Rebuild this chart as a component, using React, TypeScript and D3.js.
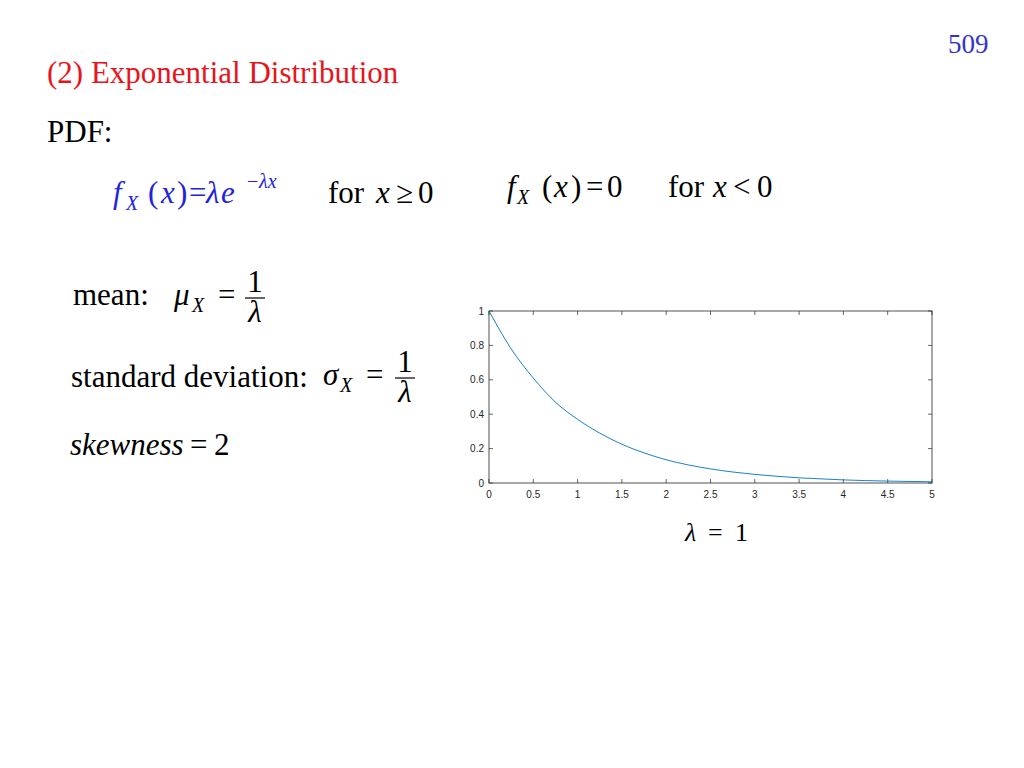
import React from "react";
import * as d3 from "d3";

// Curve (lambda = 1)
const xValues = [0, 0.25, 0.5, 0.75, 1, 1.25, 1.5, 1.75, 2, 2.25, 2.5, 2.75, 3, 3.25, 3.5, 3.75, 4, 4.25, 4.5, 4.75, 5];
const yValues = [1, 0.78, 0.61, 0.47, 0.37, 0.29, 0.225, 0.175, 0.135, 0.105, 0.082, 0.064, 0.05, 0.039, 0.03, 0.024, 0.018, 0.014, 0.011, 0.009, 0.007];
const xTicks = [0, 0.5, 1, 1.5, 2, 2.5, 3, 3.5, 4, 4.5, 5];
const yTicks = [0, 0.2, 0.4, 0.6, 0.8, 1];

const SERIF = "'Liberation Serif', 'Times New Roman', serif";
const SANS = "'Liberation Sans', Arial, Helvetica, sans-serif";

export default function App() {
  const W = 1024, H = 768;
  const left = 489, right = 932, top = 311, bottom = 483;
  const x = d3.scaleLinear().domain([0, 5]).range([left, right]);
  const y = d3.scaleLinear().domain([0, 1]).range([bottom, top]);
  const pts: [number, number][] = xValues.map((v, i) => [v, yValues[i]]);
  const line = d3.line<[number, number]>().x(d => x(d[0])).y(d => y(d[1])).curve(d3.curveMonotoneX);
  const axisColor = "#262626";
  const tl = 4;
  const fs = 31;
  const sub = 20;

  return (
    <svg width={W} height={H} style={{ position: "absolute", left: 0, top: 0, background: "#fff" }}>
      <rect x={0} y={0} width={W} height={H} fill="#fff" />
      {/* page number */}
      <text x={948} y={53} fontFamily={SERIF} fontSize={27} fill="#3333cc">509</text>
      {/* title */}
      <text x={47} y={83} fontFamily={SERIF} fontSize={fs} fill="#e8141b">(2) Exponential Distribution</text>
      <text x={47} y={142} fontFamily={SERIF} fontSize={fs} fill="#000">PDF:</text>

      {/* f_X(x) = λ e^{-λx} */}
      <g fontFamily={SERIF} fill="#2222dd" fontStyle="italic">
        <text x={113} y={203} fontSize={fs}>f</text>
        <text x={126} y={210} fontSize={sub}>X</text>
        <text x={148} y={203} fontSize={fs} fontStyle="normal">(</text>
        <text x={161} y={203} fontSize={fs}>x</text>
        <text x={177} y={203} fontSize={fs} fontStyle="normal">)</text>
        <text x={189} y={203} fontSize={fs} fontStyle="normal">=</text>
        <text x={206} y={203} fontSize={fs}>λ</text>
        <text x={221} y={203} fontSize={fs}>e</text>
        <text x={247} y={188} fontSize={sub} fontStyle="normal">−</text>
        <text x={259} y={188} fontSize={sub}>λx</text>
      </g>
      <g fontFamily={SERIF} fill="#000" fontSize={fs}>
        <text x={328} y={203}>for</text>
        <text x={376} y={203} fontStyle="italic">x</text>
        <text x={396} y={203}>≥</text>
        <text x={418} y={203}>0</text>
      </g>

      {/* f_X(x) = 0 for x < 0 */}
      <g fontFamily={SERIF} fill="#000" fontSize={fs}>
        <text x={507} y={197} fontStyle="italic">f</text>
        <text x={517} y={204} fontSize={sub} fontStyle="italic">X</text>
        <text x={542} y={197}>(</text>
        <text x={554} y={197} fontStyle="italic">x</text>
        <text x={571} y={197}>)</text>
        <text x={586} y={197}>=</text>
        <text x={607} y={197}>0</text>
        <text x={668} y={197}>for</text>
        <text x={713} y={197} fontStyle="italic">x</text>
        <text x={733} y={197}>&lt;</text>
        <text x={757} y={197}>0</text>
      </g>

      {/* mean */}
      <g fontFamily={SERIF} fill="#000" fontSize={fs}>
        <text x={73} y={305}>mean:</text>
        <text x={174} y={305} fontStyle="italic">μ</text>
        <text x={192} y={312} fontSize={sub} fontStyle="italic">X</text>
        <text x={218} y={305}>=</text>
        <text x={255} y={292} textAnchor="middle">1</text>
        <line x1={245} x2={265} y1={298} y2={298} stroke="#000" strokeWidth={1.2} />
        <text x={255} y={322} textAnchor="middle" fontStyle="italic">λ</text>
      </g>

      {/* standard deviation */}
      <g fontFamily={SERIF} fill="#000" fontSize={fs}>
        <text x={71} y={387}>standard deviation:</text>
        <text x={323} y={385} fontStyle="italic">σ</text>
        <text x={340} y={392} fontSize={sub} fontStyle="italic">X</text>
        <text x={366} y={385}>=</text>
        <text x={405} y={372} textAnchor="middle">1</text>
        <line x1={395} x2={415} y1={378} y2={378} stroke="#000" strokeWidth={1.2} />
        <text x={405} y={402} textAnchor="middle" fontStyle="italic">λ</text>
      </g>

      {/* skewness */}
      <g fontFamily={SERIF} fill="#000" fontSize={fs}>
        <text x={70} y={455} fontStyle="italic">skewness</text>
        <text x={190} y={455}>=</text>
        <text x={214} y={455}>2</text>
      </g>

      {/* lambda = 1 */}
      <g fontFamily={SERIF} fill="#000" fontSize={26}>
        <text x={685} y={541} fontStyle="italic">λ</text>
        <text x={708} y={541}>=</text>
        <text x={735} y={541}>1</text>
      </g>

      {/* chart */}
      <g>
        {xTicks.map(t => (
          <g key={"xt" + t}>
            <line x1={x(t)} x2={x(t)} y1={bottom} y2={bottom - tl} stroke={axisColor} strokeWidth={0.7} />
            <line x1={x(t)} x2={x(t)} y1={top} y2={top + tl} stroke={axisColor} strokeWidth={0.7} />
            <text x={x(t)} y={bottom + 15} textAnchor="middle" fontFamily={SANS} fontSize={10} fill={axisColor}>{t}</text>
          </g>
        ))}
        {yTicks.map(t => (
          <g key={"yt" + t}>
            <line x1={left} x2={left + tl} y1={y(t)} y2={y(t)} stroke={axisColor} strokeWidth={0.7} />
            <line x1={right} x2={right - tl} y1={y(t)} y2={y(t)} stroke={axisColor} strokeWidth={0.7} />
            <text x={484} y={y(t) + 3.5} textAnchor="end" fontFamily={SANS} fontSize={10} fill={axisColor}>{t}</text>
          </g>
        ))}
        <rect x={left} y={top} width={right - left} height={bottom - top} fill="none" stroke={axisColor} strokeWidth={0.8} />
        <path d={line(pts) || ""} fill="none" stroke="#0072BD" strokeWidth={0.9} />
      </g>
    </svg>
  );
}
